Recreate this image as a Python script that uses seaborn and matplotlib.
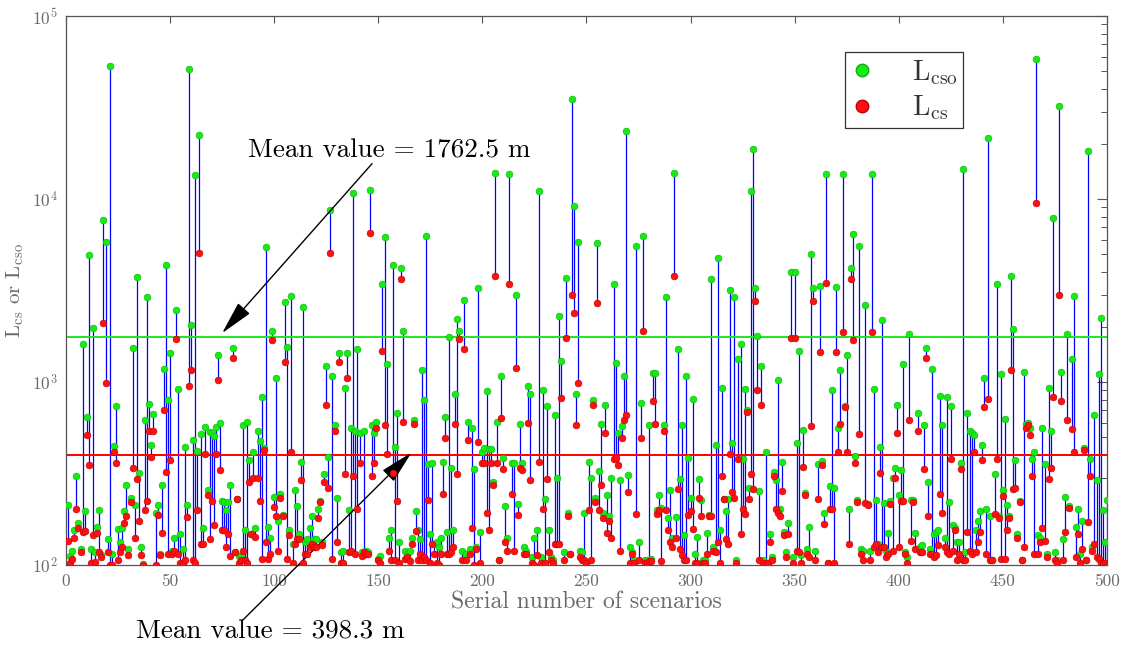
import numpy as np
import pandas as pd
import matplotlib
matplotlib.use("Agg")
import matplotlib.pyplot as plt
from matplotlib.lines import Line2D
import seaborn as sns

# L_cso per scenario (upper value, green)
cso = [
    213, 112, 120, 156, 306, 170, 123, 1615, 198, 643,
    4970, 123, 1980, 118, 162, 201, 113, 7680, 5820, 138,
    53500, 115, 447, 735, 157, 133, 160, 198, 274, 123,
    233, 1540, 213, 3740, 318, 126, 101, 620, 2910, 761,
    450, 668, 192, 213, 115, 274, 1180, 4350, 796, 1440,
    120, 140, 2480, 913, 148, 123, 441, 214, 51200, 2040,
    480, 13600, 420, 22400, 520, 160, 566, 257, 535, 529,
    507, 566, 1410, 596, 225, 220, 200, 220, 274, 1540,
    118, 230, 112, 110, 579, 156, 601, 374, 148, 412,
    160, 541, 476, 830, 438, 5480, 162, 140, 1890, 235,
    1046, 175, 243, 187, 2750, 1550, 155, 2940, 130, 257,
    210, 148, 367, 2580, 133, 138, 160, 186, 138, 138,
    203, 225, 133, 313, 1228, 389, 8690, 1072, 579, 232,
    1440, 118, 120, 925, 1440, 200, 560, 10800, 541, 1510,
    529, 118, 541, 120, 118, 11200, 579, 524, 601, 108,
    112, 3420, 6170, 1257, 140, 155, 4350, 440, 680, 133,
    4190, 1890, 120, 115, 120, 140, 620, 198, 155, 138,
    1160, 796, 6280, 358, 148, 362, 130, 133, 126, 140,
    367, 648, 151, 1770, 340, 155, 865, 2220, 1910, 120,
    2820, 115, 601, 123, 560, 335, 126, 3260, 151, 412,
    438, 893, 430, 430, 285, 13900, 601, 107, 1072, 385,
    211, 140, 13700, 359, 362, 2980, 216, 590, 362, 126,
    120, 955, 855, 110, 140, 155, 11000, 110, 900, 230,
    735, 155, 110, 107, 664, 300, 2300, 1300, 118, 3700,
    193, 115, 35100, 9160, 865, 5820, 120, 118, 193, 103,
    367, 300, 796, 233, 5720, 328, 590, 193, 745, 242,
    186, 300, 3450, 1270, 529, 293, 573, 1080, 23600, 310,
    126, 118, 107, 5560, 133, 765, 6260, 107, 107, 579,
    108, 1120, 1120, 200, 240, 206, 579, 2910, 180, 257,
    140, 13900, 183, 1510, 296, 579, 145, 1072, 385, 232,
    807, 115, 142, 296, 228, 107, 107, 150, 188, 3660,
    126, 455, 4760, 155, 925, 230, 198, 230, 3190, 466,
    2910, 107, 1333, 1615, 380, 913, 702, 262, 11000, 18800,
    3260, 1780, 255, 1230, 107, 412, 103, 148, 110, 323,
    293, 1020, 203, 367, 151, 118, 170, 4010, 110, 4010,
    466, 1486, 113, 546, 249, 123, 162, 4990, 3260, 120,
    358, 3340, 372, 193, 13700, 103, 270, 900, 262, 3300,
    560, 1160, 13700, 735, 1400, 203, 4190, 6460, 395, 226,
    5560, 123, 120, 2640, 216, 120, 13700, 913, 228, 130,
    441, 2190, 218, 120, 150, 225, 300, 340, 745, 240,
    330, 1257, 118, 110, 1830, 228, 228, 150, 680, 126,
    128, 579, 1530, 286, 123, 1180, 148, 151, 155, 834,
    579, 140, 830, 220, 735, 165, 160, 133, 133, 362,
    14500, 118, 680, 541, 524, 514, 155, 175, 197, 455,
    1046, 203, 21600, 186, 107, 316, 3450, 186, 1100, 257,
    630, 213, 186, 3780, 1940, 374, 148, 225, 107, 1130,
    590, 597, 560, 380, 412, 58200, 145, 140, 560, 356,
    115, 925, 541, 7850, 118, 107, 32100, 1130, 138, 236,
    1830, 211, 1330, 2950, 162, 203, 115, 175, 436, 107,
    18200, 380, 126, 664, 290, 1100, 2250, 200, 133, 228,
]

# L_cs per scenario (lower value, red)
cs = [
    135, 103, 108, 140, 203, 160, 118, 151, 154, 512,
    351, 103, 145, 104, 150, 118, 110, 2090, 986, 118,
    100, 100, 412, 360, 107, 118, 126, 170, 186, 113,
    220, 339, 141, 296, 173, 113, 100, 200, 223, 541,
    390, 541, 100, 187, 113, 150, 702, 324, 115, 374,
    115, 120, 1710, 115, 103, 103, 107, 184, 955, 1160,
    107, 103, 200, 5080, 130, 130, 403, 240, 138, 223,
    165, 403, 1020, 330, 155, 155, 126, 148, 112, 1350,
    118, 230, 103, 107, 120, 107, 103, 285, 148, 300,
    142, 300, 223, 108, 423, 133, 108, 115, 1690, 208,
    186, 120, 233, 185, 1285, 108, 145, 412, 103, 130,
    138, 138, 293, 103, 115, 115, 126, 130, 126, 126,
    180, 220, 128, 285, 745, 262, 5080, 108, 541, 133,
    1280, 103, 103, 316, 1050, 118, 120, 307, 115, 203,
    359, 112, 118, 115, 115, 6510, 307, 359, 560, 107,
    103, 1486, 579, 403, 120, 107, 320, 107, 223, 103,
    3660, 601, 108, 110, 105, 130, 590, 154, 107, 115,
    107, 110, 107, 228, 103, 130, 115, 103, 100, 115,
    245, 494, 115, 115, 118, 126, 593, 316, 1710, 107,
    1510, 107, 480, 115, 160, 100, 123, 470, 103, 359,
    359, 193, 155, 359, 275, 3790, 359, 107, 639, 336,
    133, 120, 3450, 245, 120, 1200, 188, 339, 330, 115,
    115, 597, 293, 103, 100, 113, 367, 103, 203, 103,
    296, 118, 107, 103, 130, 130, 130, 815, 107, 1730,
    186, 115, 2980, 2390, 585, 986, 110, 107, 107, 103,
    200, 107, 745, 220, 2690, 200, 274, 180, 529, 150,
    175, 140, 380, 386, 351, 120, 495, 622, 664, 250,
    103, 115, 103, 189, 107, 495, 1890, 103, 103, 105,
    105, 785, 590, 189, 200, 105, 541, 200, 155, 133,
    126, 3790, 140, 259, 123, 113, 107, 107, 188, 197,
    158, 103, 103, 233, 186, 103, 103, 115, 186, 186,
    120, 118, 133, 103, 307, 230, 138, 130, 403, 250,
    233, 103, 380, 148, 203, 190, 688, 230, 316, 259,
    2770, 900, 107, 745, 103, 103, 103, 133, 107, 307,
    203, 193, 186, 255, 145, 110, 148, 1750, 103, 1750,
    120, 118, 103, 342, 242, 115, 110, 574, 2760, 107,
    230, 1450, 350, 167, 3470, 103, 203, 203, 103, 1450,
    412, 593, 1870, 727, 412, 130, 3660, 1690, 360, 220,
    521, 115, 107, 218, 213, 107, 1870, 126, 130, 118,
    318, 126, 126, 110, 115, 216, 120, 300, 529, 126,
    223, 223, 115, 103, 620, 136, 220, 123, 541, 118,
    118, 335, 1350, 186, 115, 115, 110, 113, 128, 245,
    193, 126, 118, 115, 380, 120, 155, 107, 115, 336,
    107, 107, 151, 120, 115, 412, 118, 133, 151, 374,
    727, 115, 803, 107, 107, 190, 380, 180, 108, 238,
    108, 155, 180, 1160, 261, 262, 140, 220, 107, 126,
    560, 580, 514, 307, 115, 9500, 115, 133, 160, 135,
    110, 296, 339, 826, 107, 103, 2980, 785, 107, 151,
    620, 206, 553, 412, 110, 148, 103, 123, 425, 107,
    172, 305, 120, 130, 110, 108, 103, 103, 103, 100,
]

mean_cso = 1762.5
mean_cs = 398.3
x_ticks = [0, 50, 100, 150, 200, 250, 300, 350, 400, 450, 500]

GREEN = "#14ec14"
RED = "#ff1010"
BLUE = "#0000ff"
GREY = "#6a6a6a"

sns.set_theme(style="white")
plt.rcParams["font.family"] = ["cmr10", "Liberation Serif", "DejaVu Serif"]
plt.rcParams["mathtext.fontset"] = "cm"
plt.rcParams["axes.formatter.use_mathtext"] = True

n = min(len(cso), len(cs))
df = pd.DataFrame({
    "scenario": np.arange(1, n + 1),
    "cso": cso[:n],
    "cs": cs[:n],
})

fig = plt.figure(figsize=(11.26, 6.49), dpi=100)
ax = fig.add_axes([0.0586, 0.1294, 0.9245, 0.8459])

# stems joining the two lengths of each scenario
ax.vlines(df["scenario"], df["cs"], df["cso"], color=BLUE, lw=0.9, zorder=2)

sns.scatterplot(data=df, x="scenario", y="cso", ax=ax, color=GREEN, s=24,
                edgecolor="#10b010", linewidth=0.4, zorder=3, legend=False)
sns.scatterplot(data=df, x="scenario", y="cs", ax=ax, color=RED, s=24,
                edgecolor="#c00000", linewidth=0.4, zorder=4, legend=False)

# mean levels
ax.axhline(mean_cso, color="#1ee61e", lw=1.4, zorder=2.5)
ax.axhline(mean_cs, color="#ff0000", lw=1.4, zorder=2.5)

ax.set_yscale("log")
ax.set_xlim(0, 500)
ax.set_ylim(100, 1e5)
ax.set_xticks(x_ticks)
ax.set_xticklabels([str(t) for t in x_ticks])

for side in ("left", "right", "top", "bottom"):
    ax.spines[side].set_color("#555555")
    ax.spines[side].set_linewidth(0.9)

ax.tick_params(which="both", direction="in", top=True, right=True,
               colors="#555555", labelcolor=GREY, labelsize=12.5)
ax.tick_params(which="major", length=7, width=0.8, pad=6)
ax.tick_params(which="minor", length=4, width=0.7)
ax.tick_params(axis="x", which="major", length=5)

ax.set_xlabel("Serial number of scenarios", fontsize=17, color=GREY, labelpad=2)
ax.set_ylabel(r"L$_{\rm cs}$ or L$_{\rm cso}$", fontsize=15, color=GREY, labelpad=4)

# mean value callouts
ax.text(155.5, 18500, "Mean value = 1762.5 m", fontsize=19.5, color="black",
        ha="center", va="center")
ax.annotate("", xy=(75, 1850), xytext=(147, 15600),
            arrowprops=dict(arrowstyle="-|>,head_length=1.5,head_width=0.35",
                            color="black", lw=1.0, shrinkA=0, shrinkB=0,
                            mutation_scale=14))

ax.text(0.196, -0.122, "Mean value = 398.3 m", fontsize=19.5, color="black",
        ha="center", va="center", transform=ax.transAxes, clip_on=False)
ax.annotate("", xy=(166, 412), xycoords="data",
            xytext=(0.170, -0.100), textcoords="axes fraction",
            annotation_clip=False,
            arrowprops=dict(arrowstyle="-|>,head_length=1.5,head_width=0.35",
                            color="black", lw=1.0, shrinkA=0, shrinkB=0,
                            mutation_scale=14))

handles = [
    Line2D([], [], ls="none", marker="o", markersize=9, color=GREEN,
           markeredgecolor="#10b010"),
    Line2D([], [], ls="none", marker="o", markersize=9, color=RED,
           markeredgecolor="#c00000"),
]
leg = ax.legend(handles, [r"L$_{\rm cso}$", r"L$_{\rm cs}$"],
                loc="upper right", bbox_to_anchor=(0.862, 0.934),
                borderaxespad=0, fontsize=20, frameon=True, fancybox=False,
                handletextpad=1.4, handlelength=0.8, borderpad=0.2,
                labelspacing=0.25, labelcolor="#333333")
leg.get_frame().set_edgecolor("black")
leg.get_frame().set_linewidth(0.9)

fig.savefig("out.png", dpi=100, facecolor="white")
